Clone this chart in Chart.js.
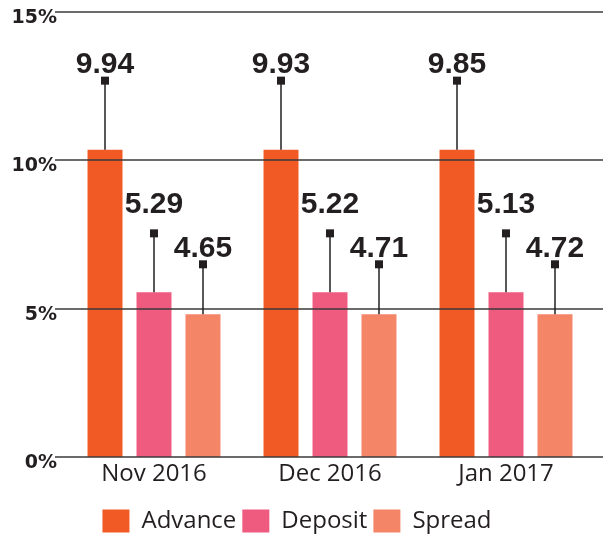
<!DOCTYPE html>
<html>
<head>
<meta charset="utf-8">
<script src="https://cdn.jsdelivr.net/npm/chart.js@4.4.0/dist/chart.umd.min.js"></script>
<style>
    body { margin: 0; background: #fff; }
</style>
</head>
<body>
<canvas id="grafico" width="603" height="539"></canvas>
<script>
    var meses = ['Nov 2016', 'Dec 2016', 'Jan 2017'];
    var series = ['Advance', 'Deposit', 'Spread'];

    // valores impressos acima das barras
    var advance = [9.94, 9.93, 9.85];
    var deposit = [5.29, 5.22, 5.13];
    var spread = [4.65, 4.71, 4.72];

    // altura das barras como aparecem no desenho
    var advanceBar = [10.36, 10.36, 10.36];
    var depositBar = [5.55, 5.55, 5.55];
    var spreadBar = [4.81, 4.81, 4.81];

    var ticksY = [0, 5, 10, 15];

    var cores = ['#f15a24', '#ef5a7f', '#f48567'];
    var rotulos = [advance, deposit, spread];
    var alturaHaste = [69, 59, 50];   // distancia do topo da barra ao quadradinho
    var folgaTexto = [4, 16, 3];      // distancia do quadradinho ao texto

    // linhas de grade por cima das barras + hastes com os valores
    var desenhos = {
        id: 'desenhos',
        afterDatasetsDraw: function(chart) {
            var ctx = chart.ctx;
            var y = chart.scales.y;
            ctx.save();
            ctx.strokeStyle = '#3a3a3a';
            ctx.lineWidth = 1.5;
            ticksY.forEach(function(t) {
                var py = Math.round(y.getPixelForValue(t));
                ctx.beginPath();
                ctx.moveTo(55, py);
                ctx.lineTo(chart.width, py);
                ctx.stroke();
            });

            ctx.strokeStyle = '#231f20';
            ctx.fillStyle = '#231f20';
            ctx.lineWidth = 1.5;
            ctx.font = 'bold 30px "Liberation Sans", Arial, sans-serif';
            ctx.textAlign = 'center';
            ctx.textBaseline = 'alphabetic';
            for (var i = 0; i < 3; i++) {
                var meta = chart.getDatasetMeta(i);
                meta.data.forEach(function(bar, j) {
                    var x = Math.round(bar.x);
                    var topo = bar.y;
                    var centro = topo - alturaHaste[i];
                    ctx.beginPath();
                    ctx.moveTo(x, topo);
                    ctx.lineTo(x, centro);
                    ctx.stroke();
                    ctx.fillRect(x - 4, centro - 4, 8, 8);
                    ctx.fillText(rotulos[i][j].toFixed(2), x, centro - 4 - folgaTexto[i]);
                });
            }
            ctx.restore();
        }
    };

    var ctx = document.getElementById('grafico').getContext('2d');
    new Chart(ctx, {
        type: 'bar',
        data: {
            labels: meses,
            datasets: [
                { label: series[0], data: advanceBar, backgroundColor: cores[0] },
                { label: series[1], data: depositBar, backgroundColor: cores[1] },
                { label: series[2], data: spreadBar, backgroundColor: cores[2] }
            ]
        },
        options: {
            responsive: false,
            animation: false,
            layout: {
                padding: { top: 12, right: 9, bottom: -4, left: 0 }
            },
            datasets: {
                bar: { categoryPercentage: 0.835, barPercentage: 0.714 }
            },
            scales: {
                x: {
                    grid: { display: false, drawTicks: false },
                    border: { display: false },
                    afterFit: function(scale) {
                        scale.height = 46;
                        scale.paddingLeft = 0;
                        scale.paddingRight = 0;
                    },
                    ticks: {
                        padding: 3,
                        color: '#231f20',
                        font: { family: '"Open Sans", sans-serif', size: 24 }
                    }
                },
                y: {
                    min: 0,
                    max: 15,
                    grid: { display: false, drawTicks: false },
                    border: { display: false },
                    afterFit: function(scale) {
                        scale.width = 66;
                        scale.paddingTop = 0;
                        scale.paddingBottom = 0;
                    },
                    ticks: {
                        stepSize: 5,
                        padding: 9,
                        labelOffset: 6,
                        color: '#231f20',
                        font: { family: '"DejaVu Sans", sans-serif', size: 19, weight: 'bold' },
                        callback: function(v) { return v + '%'; }
                    }
                }
            },
            plugins: {
                tooltip: { enabled: false },
                legend: {
                    position: 'bottom',
                    labels: {
                        boxWidth: 27,
                        boxHeight: 23,
                        padding: 6,
                        color: '#231f20',
                        font: { family: '"Open Sans", sans-serif', size: 24 }
                    }
                }
            }
        },
        plugins: [desenhos]
    });
</script>
</body>
</html>
